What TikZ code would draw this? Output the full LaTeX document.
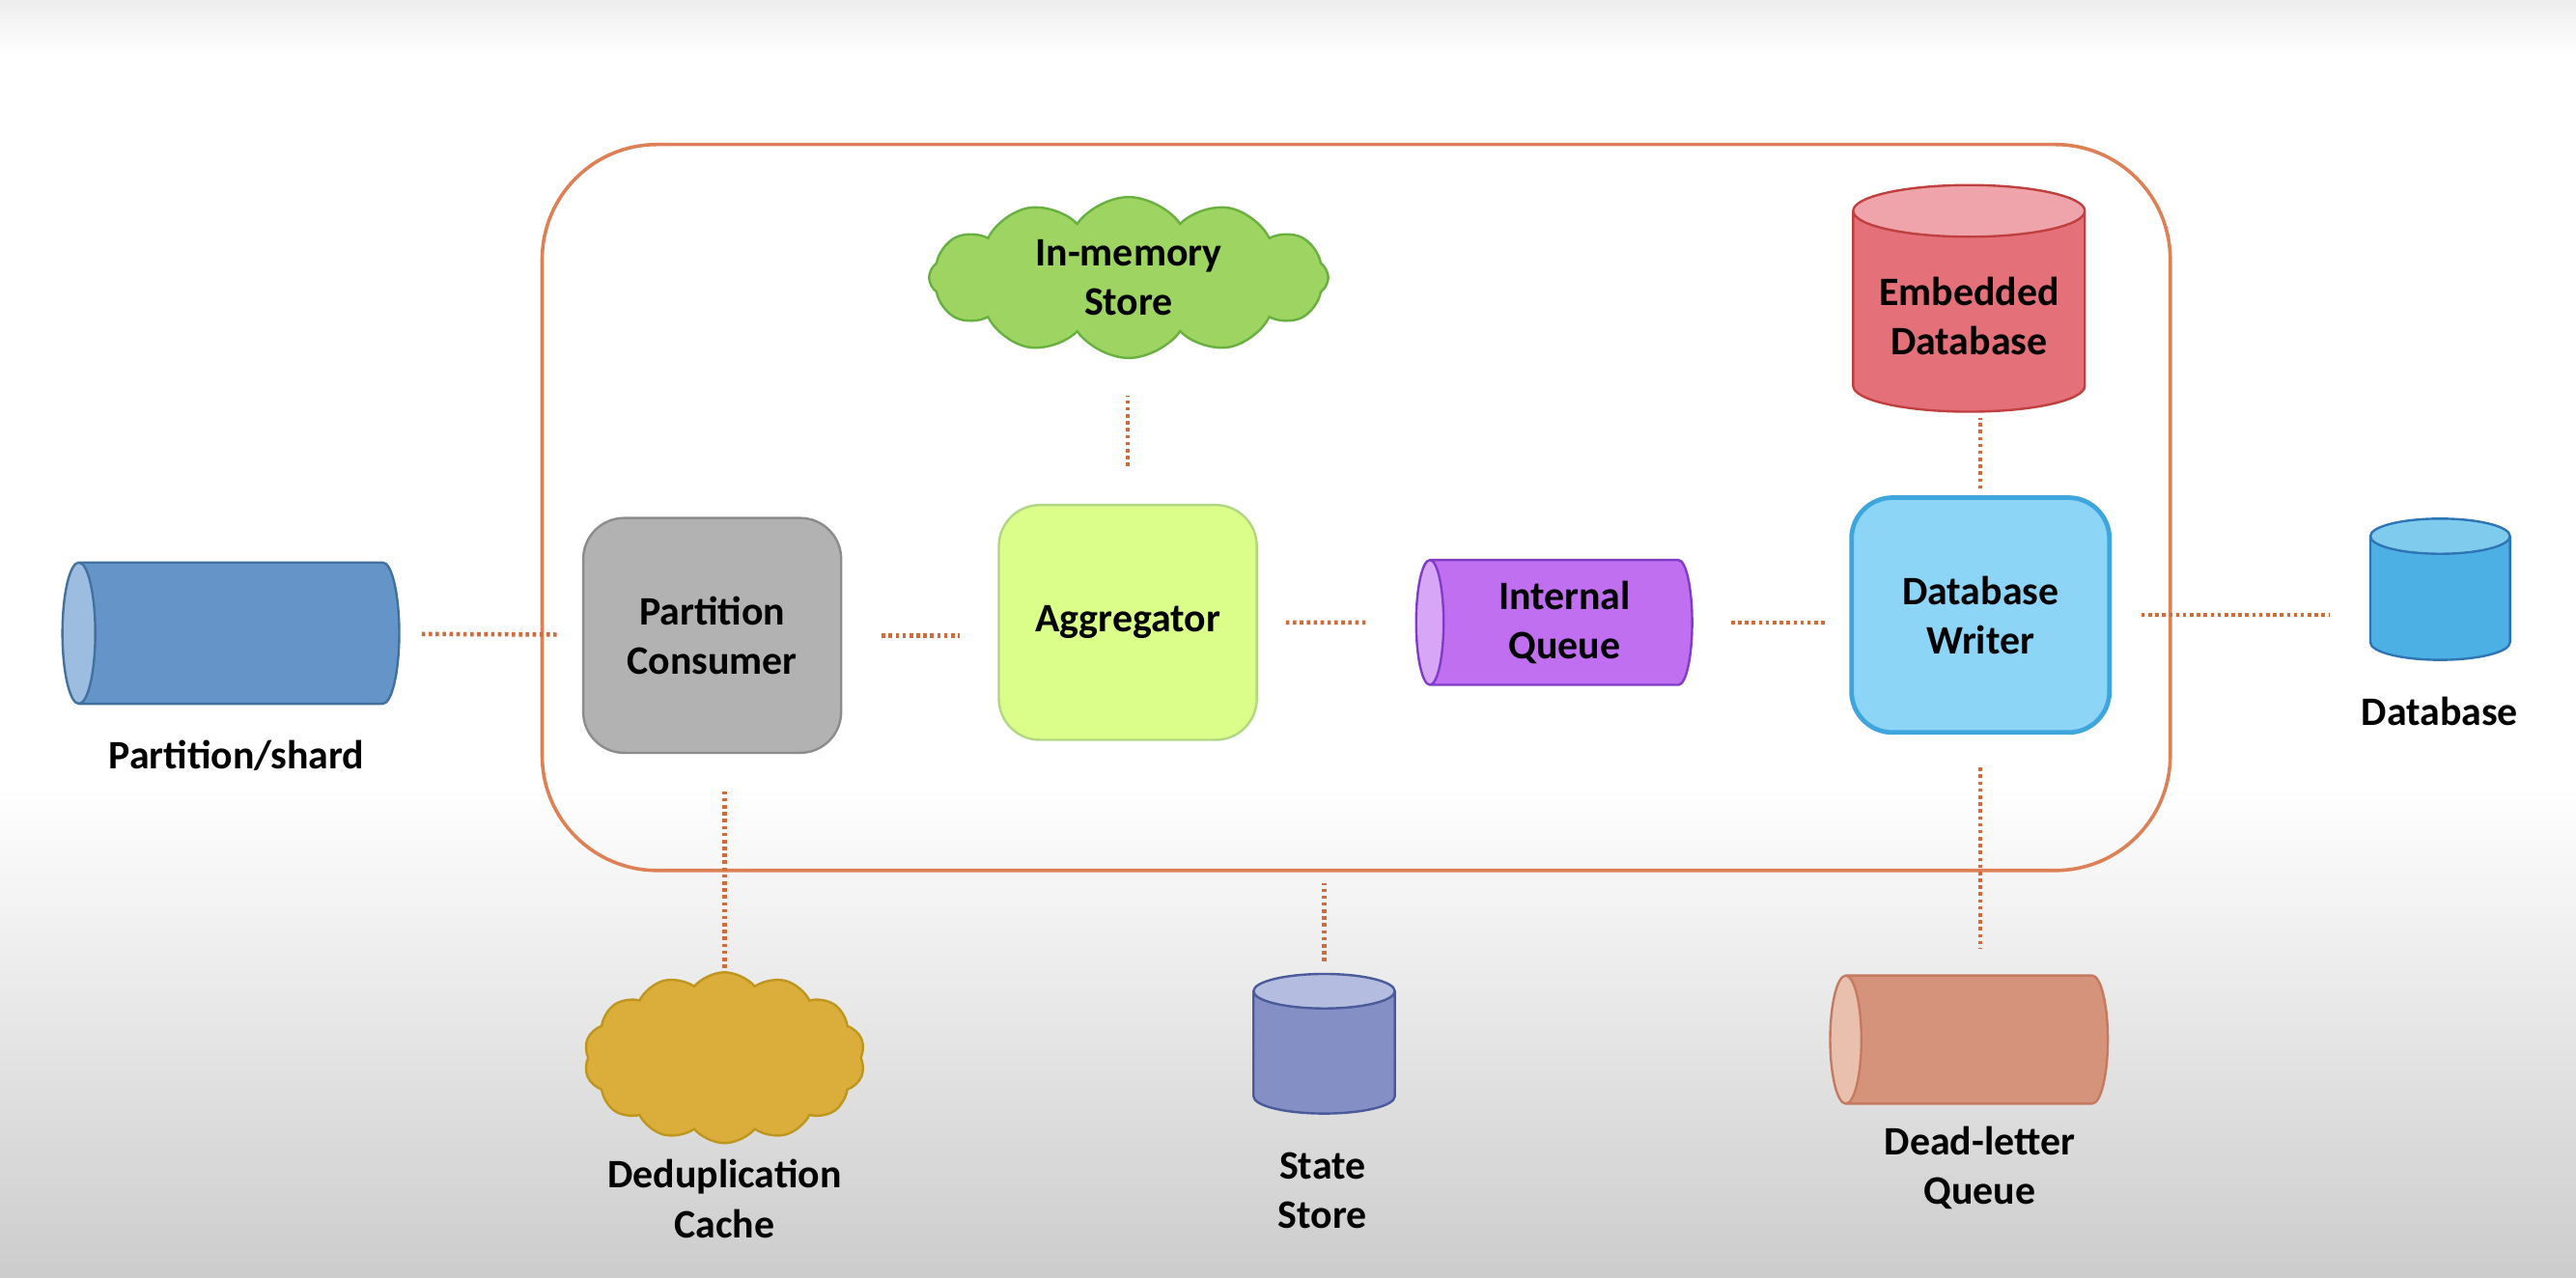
\documentclass[tikz,border=0pt]{standalone}
\usepackage{fontspec}
\setmainfont{Carlito}
\usepackage{tikz}
\usetikzlibrary{shapes.geometric,shapes.symbols}

\definecolor{framecol}{RGB}{222,128,86}
\definecolor{linkcol}{RGB}{208,108,60}
\newcommand\captfont{\fontsize{7}{8.6}\selectfont\bfseries}

\begin{document}
\begin{tikzpicture}[
		procbox/.style={draw, rounded corners=0.25cm, minimum width=1.57cm, minimum height=1.43cm, align=center, font=\captfont},
		tube/.style={cylinder, shape border rotate=180, draw, cylinder uses custom fill, anchor=shape center, align=center, inner sep=1pt, font=\captfont},
		drum/.style={cylinder, shape border rotate=90, draw, cylinder uses custom fill, anchor=shape center, align=center, inner sep=1pt, font=\captfont},
		puff/.style={cloud, draw, cloud ignores aspect, align=center, inner sep=1pt, font=\captfont},
		link/.style={draw=linkcol, line width=0.75pt, dash pattern=on 0.6pt off 0.6pt},
		caption/.style={align=center, font=\captfont}]
		% background
		\fill[white] (0,0) rectangle (15.68,7.781);
		\shade[top color=white, bottom color=black!20] (0,0) rectangle (15.68,3.0);
		\shade[top color=black!7, bottom color=white] (0,7.45) rectangle (15.68,7.781);
		\useasboundingbox (0,0) rectangle (15.68,7.781);
		% service frame
		\node[draw=framecol, line width=0.6pt, rounded corners=0.7cm, minimum width=9.91cm, minimum height=4.42cm] (frame) at (8.255,4.691) {};
		% nodes (cylinder: minimum height runs along the axis)
		\node[tube, inner sep=0.1cm, aspect=1.0, draw={rgb,255:red,65;green,113;blue,156}, cylinder body fill={rgb,255:red,101;green,148;blue,200}, cylinder end fill={rgb,255:red,157;green,189;blue,224}, minimum height=2.05cm, minimum width=0.86cm] (shard) at (1.405,3.926) {};
		\node[caption] (shardtext) at (1.44,3.181) {Partition/shard};
		\node[procbox, draw=black!45, fill=black!30] (consumer) at (4.335,3.912) {Partition\\Consumer};
		\node[procbox, draw={rgb,255:red,178;green,215;blue,130}, fill={rgb,255:red,219;green,253;blue,138}] (aggregator) at (6.865,3.991) {Aggregator};
		\node[puff, cloud puffs=12, cloud puff arc=110, draw={rgb,255:red,104;green,176;blue,64}, fill={rgb,255:red,158;green,212;blue,97}, minimum width=2.43cm, minimum height=0.98cm] (memstore) at (6.87,6.091) {In-memory\\Store};
		\node[tube, aspect=0.29, draw={rgb,255:red,128;green,60;blue,200}, cylinder body fill={rgb,255:red,191;green,111;blue,240}, cylinder end fill={rgb,255:red,216;green,166;blue,247}, minimum height=1.68cm, minimum width=0.76cm] (iqueue) at (9.46,3.991) {Internal\\Queue};
		\node[procbox, line width=0.8pt, draw={rgb,255:red,62;green,166;blue,220}, fill={rgb,255:red,140;green,213;blue,247}] (dbwriter) at (12.055,4.036) {Database\\Writer};
		\node[drum, aspect=0.27, draw={rgb,255:red,192;green,64;blue,64}, cylinder body fill={rgb,255:red,228;green,112;blue,122}, cylinder end fill={rgb,255:red,238;green,164;blue,170}, minimum width=1.41cm, minimum height=1.38cm] (embedded) at (11.985,5.964) {Embedded\\Database};
		\node[drum, inner sep=0.1cm, aspect=1.07, draw={rgb,255:red,46;green,117;blue,182}, cylinder body fill={rgb,255:red,77;green,176;blue,228}, cylinder end fill={rgb,255:red,127;green,203;blue,238}, minimum width=0.85cm, minimum height=0.86cm] (database) at (14.853,4.193) {};
		\node[caption] (databasetext) at (14.85,3.451) {Database};
		\node[puff, cloud puffs=14, cloud puff arc=100, draw={rgb,255:red,190;green,150;blue,30}, fill={rgb,255:red,219;green,174;blue,59}, minimum width=1.71cm, minimum height=1.04cm] (dedup) at (4.41,1.341) {};
		\node[caption] (deduptext) at (4.41,0.481) {Deduplication\\Cache};
		\node[drum, inner sep=0.1cm, aspect=1.05, draw={rgb,255:red,74;green,90;blue,154}, cylinder body fill={rgb,255:red,132;green,144;blue,197}, cylinder end fill={rgb,255:red,180;green,189;blue,224}, minimum width=0.86cm, minimum height=0.85cm] (statestore) at (8.06,1.426) {};
		\node[caption] (statetext) at (8.05,0.531) {State\\Store};
		\node[tube, inner sep=0.1cm, aspect=0.95, draw={rgb,255:red,197;green,122;blue,95}, cylinder body fill={rgb,255:red,214;green,147;blue,123}, cylinder end fill={rgb,255:red,233;green,191;blue,174}, minimum height=1.69cm, minimum width=0.78cm] (deadletter) at (11.985,1.451) {};
		\node[caption] (deadtext) at (12.05,0.671) {Dead-letter\\Queue};
		% connectors
		\draw[link, shorten <=0.13cm, shorten >=0.15cm] (shard) -- (consumer);
		\draw[link, shorten <=0.24cm, shorten >=0.23cm] (consumer.east) -- (consumer.east -| aggregator.west);
		\draw[link, shorten <=0.17cm, shorten >=0.30cm] (aggregator) -- (iqueue);
		\draw[link, shorten <=0.23cm, shorten >=0.14cm] (iqueue) -- (iqueue -| dbwriter.west);
		\draw[link, shorten <=0.18cm, shorten >=0.24cm] (dbwriter.east) -- (dbwriter.east -| database.west);
		\draw[link, shorten <=0.23cm, shorten >=0.22cm] (aggregator.north) -- (aggregator.north |- memstore.south);
		\draw[link, shorten <=0.04cm, shorten >=0.03cm] (dbwriter.north) -- (dbwriter.north |- embedded.south);
		\draw[link, shorten <=0.02cm, shorten >=0.22cm] (dedup.north) -- (dedup.north |- consumer.south);
		\draw[link, shorten <=0.07cm, shorten >=0.07cm] (statestore.north) -- (statestore.north |- frame.south);
		\draw[link, shorten <=0.20cm, shorten >=0.16cm] (dbwriter.south) -- (dbwriter.south |- deadletter.north);
	\end{tikzpicture}
\end{document}
